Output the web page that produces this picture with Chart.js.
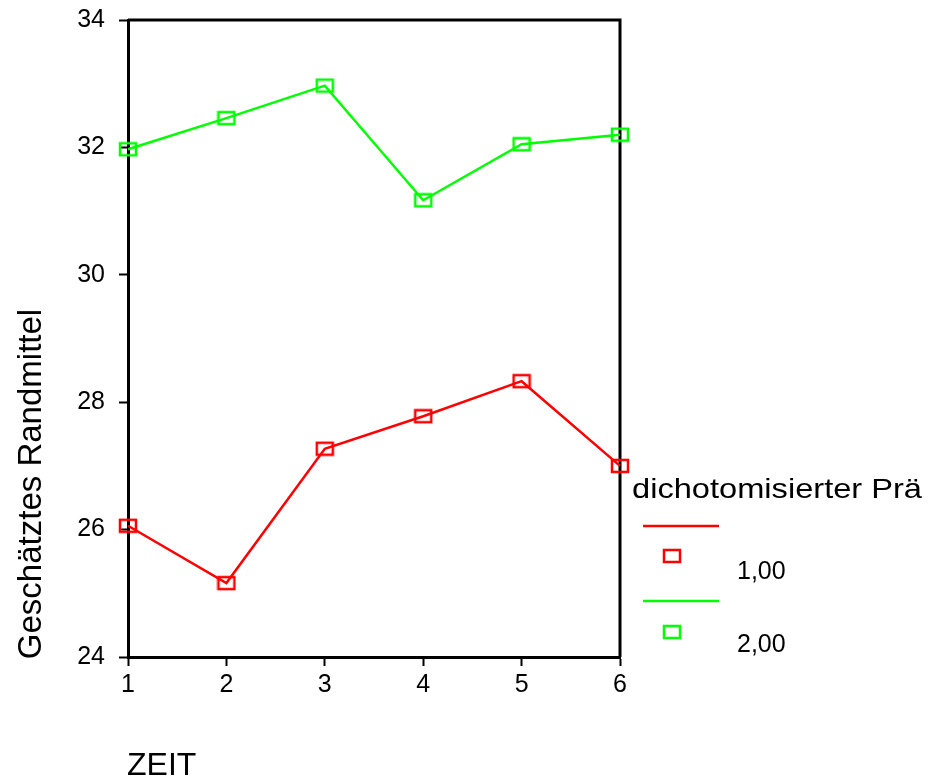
<!DOCTYPE html>
<html>
<head>
<meta charset="utf-8">
<script src="https://cdn.jsdelivr.net/npm/chart.js@4.4.0/dist/chart.umd.min.js"></script>
<style>
  body { margin: 0; background: #fff; }
  canvas { display: block; }
</style>
</head>
<body>
<canvas id="randmittelChart" width="928" height="778"></canvas>
<script>
// data
const zeit = ['1', '2', '3', '4', '5', '6'];
const gruppe1 = [26.06, 25.16, 27.27, 27.78, 28.33, 27.0];
const gruppe2 = [31.97, 32.46, 32.97, 31.17, 32.05, 32.2];
const gruppenLabels = ['1,00', '2,00'];
const yMin = 24;
const yMax = 34;
const yStep = 2;

const RED = '#ff0000';
const GREEN = '#00ff00';
const FONT = '"Liberation Sans", Arial, Helvetica, sans-serif';

Chart.defaults.font.family = FONT;
Chart.defaults.color = '#000';

// hollow, slightly wide square marker like the SPSS plot
function squareMarker(color) {
  const c = document.createElement('canvas');
  c.width = 20;
  c.height = 16;
  const g = c.getContext('2d');
  g.strokeStyle = color;
  g.lineWidth = 2.5;
  g.strokeRect(2, 2, 16, 12);
  return c;
}
const redMarker = squareMarker(RED);
const greenMarker = squareMarker(GREEN);

const framePlugin = {
  id: 'frame',
  beforeDatasetsDraw(chart) {
    const { ctx, chartArea: a } = chart;
    ctx.save();
    ctx.strokeStyle = '#000';
    ctx.lineWidth = 3;
    ctx.beginPath();
    ctx.moveTo(a.left, a.top);
    ctx.lineTo(a.right, a.top);
    ctx.lineTo(a.right, a.bottom);
    ctx.stroke();
    ctx.restore();
  }
};

const textPlugin = {
  id: 'texts',
  afterDraw(chart) {
    const ctx = chart.ctx;
    ctx.save();
    ctx.fillStyle = '#000';

    // y axis title
    ctx.save();
    ctx.translate(41, 484);
    ctx.rotate(-Math.PI / 2);
    ctx.font = '33px ' + FONT;
    ctx.textAlign = 'center';
    ctx.textBaseline = 'alphabetic';
    ctx.fillText('Geschätztes Randmittel', 0, 0);
    ctx.restore();

    // x axis title
    ctx.font = '32px ' + FONT;
    ctx.textAlign = 'left';
    ctx.textBaseline = 'alphabetic';
    ctx.fillText('ZEIT', 127, 775);

    // legend
    ctx.save();
    ctx.font = '28px ' + FONT;
    const title = 'dichotomisierter Prä';
    const w = ctx.measureText(title).width;
    ctx.translate(632, 498);
    ctx.scale(290 / w, 1);
    ctx.fillText(title, 0, 0);
    ctx.restore();

    const rows = [
      { color: RED, marker: redMarker, lineY: 526, markY: 556, textY: 579 },
      { color: GREEN, marker: greenMarker, lineY: 601, markY: 632, textY: 652 }
    ];
    ctx.font = '25px ' + FONT;
    rows.forEach((r, i) => {
      ctx.strokeStyle = r.color;
      ctx.lineWidth = 2.5;
      ctx.beginPath();
      ctx.moveTo(643, r.lineY);
      ctx.lineTo(719, r.lineY);
      ctx.stroke();
      ctx.drawImage(r.marker, 672 - 10, r.markY - 8);
      ctx.fillText(gruppenLabels[i], 737, r.textY);
    });
    ctx.restore();
  }
};

const ctx = document.getElementById('randmittelChart').getContext('2d');
const randmittelChart = new Chart(ctx, {
  type: 'line',
  data: {
    labels: zeit,
    datasets: [{
      label: gruppenLabels[0],
      data: gruppe1,
      borderColor: RED,
      borderWidth: 2.5,
      pointStyle: redMarker,
      pointRadius: 9,
      tension: 0,
      fill: false,
      clip: false
    }, {
      label: gruppenLabels[1],
      data: gruppe2,
      borderColor: GREEN,
      borderWidth: 2.5,
      pointStyle: greenMarker,
      pointRadius: 9,
      tension: 0,
      fill: false,
      clip: false
    }]
  },
  options: {
    responsive: false,
    animation: false,
    layout: {
      padding: { left: 0, top: 20, right: 308, bottom: 0 }
    },
    plugins: {
      legend: { display: false },
      tooltip: { enabled: false }
    },
    scales: {
      x: {
        type: 'category',
        offset: false,
        afterFit(scale) {
          scale.height = 121;
          scale.paddingLeft = 0;
          scale.paddingRight = 0;
        },
        border: { display: true, color: '#000', width: 3 },
        grid: {
          drawOnChartArea: false,
          drawTicks: true,
          tickLength: 9,
          tickColor: '#000',
          tickWidth: 2,
          color: '#000'
        },
        ticks: {
          color: '#000',
          font: { size: 25 },
          padding: 4,
          maxRotation: 0,
          autoSkip: false
        }
      },
      y: {
        min: yMin,
        max: yMax,
        afterFit(scale) {
          scale.width = 128;
          scale.paddingTop = 0;
          scale.paddingBottom = 0;
        },
        border: { display: true, color: '#000', width: 3 },
        grid: {
          drawOnChartArea: false,
          drawTicks: true,
          tickLength: 9,
          tickColor: '#000',
          tickWidth: 2,
          color: '#000'
        },
        ticks: {
          stepSize: yStep,
          color: '#000',
          font: { size: 25 },
          padding: 14
        }
      }
    }
  },
  plugins: [framePlugin, textPlugin]
});
</script>
</body>
</html>
